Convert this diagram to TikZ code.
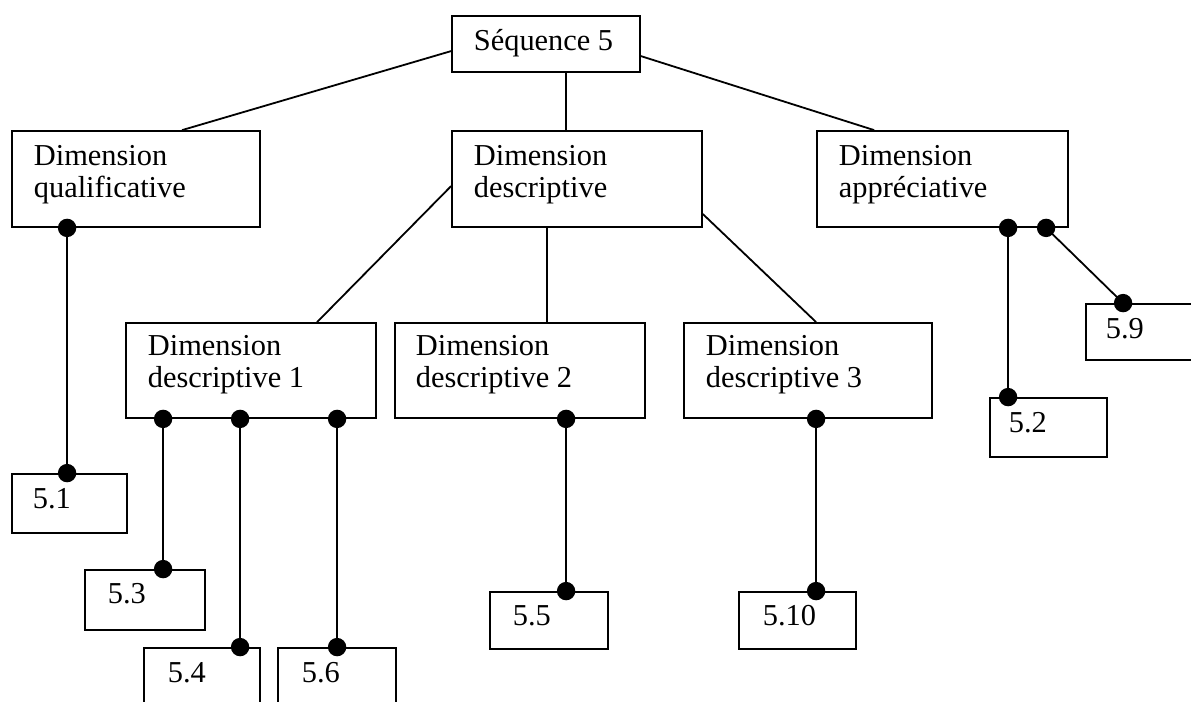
\documentclass[tikz,border=0pt]{standalone}
\usepackage{fontspec}
\setmainfont{Liberation Serif}
\usetikzlibrary{fit,calc}
\begin{document}
\begin{tikzpicture}[x=0.5pt,y=-0.5pt,line width=0.9pt,
  box/.style={draw,rectangle,inner sep=0pt,line width=0.9pt},
  lbl/.style={anchor=base west,inner sep=0pt,align=left,font=\fontsize{15.2pt}{16pt}\selectfont},
  dotc/.style={fill=black},
  conn/.style={draw=black,line width=0.9pt}]
\useasboundingbox (0,0) rectangle (1191,702);
\clip (0,0) rectangle (1191,702);
% boxes
\node[box,fit={(452,16) (640,72)}] (s) {};
\node[box,fit={(12,131) (260,227)}] (q) {};
\node[box,fit={(452,131) (702,227)}] (d) {};
\node[box,fit={(817,131) (1068,227)}] (a) {};
\node[box,fit={(126,323) (376,418)}] (d1) {};
\node[box,fit={(395,323) (645,418)}] (d2) {};
\node[box,fit={(684,323) (932,418)}] (d3) {};
\node[box,fit={(12,474) (127,533)}] (b1) {};
\node[box,fit={(85,570) (205,630)}] (b3) {};
\node[box,fit={(144,648) (260,720)}] (b4) {};
\node[box,fit={(278,648) (396,720)}] (b6) {};
\node[box,fit={(490,592) (608,649)}] (b5) {};
\node[box,fit={(739,592) (856,649)}] (b10) {};
\node[box,fit={(990,398) (1107,457)}] (b2) {};
\node[box,fit={(1086,304) (1210,360)}] (b9) {};
% texts (two-line nodes: base = last line)
\node[lbl] (ts) at (473,50) {Séquence 5};
\node[lbl] (tq) at (33,197) {Dimension\\qualificative};
\node[lbl] (td) at (473,197) {Dimension\\descriptive};
\node[lbl] (ta) at (838,197) {Dimension\\appréciative};
\node[lbl] (td1) at (147,387) {Dimension\\descriptive 1};
\node[lbl] (td2) at (415,387) {Dimension\\descriptive 2};
\node[lbl] (td3) at (705,387) {Dimension\\descriptive 3};
\node[lbl] (t1) at (32,508) {5.1};
\node[lbl] (t3) at (107,603) {5.3};
\node[lbl] (t4) at (167,682) {5.4};
\node[lbl] (t6) at (301,682) {5.6};
\node[lbl] (t5) at (512,625) {5.5};
\node[lbl] (t10) at (762,625) {5.10};
\node[lbl] (t2) at (1008,432) {5.2};
\node[lbl] (t9) at (1105,338) {5.9};
% plain connectors
\draw[conn] ($(s.north west)+(0,36)$) -- ($(q.north west)+(171,0)$);
\draw[conn] ($(s.north east)+(0,41)$) -- ($(a.north west)+(58,0)$);
\draw[conn] ($(s.south west)+(115,0)$) -- ($(d.north west)+(115,0)$);
\draw[conn] ($(d.north west)+(0,56)$) -- ($(d1.north west)+(192,0)$);
\draw[conn] ($(d.south west)+(96,0)$) -- ($(d2.north west)+(153,0)$);
\draw[conn] ($(d.north east)+(0,84)$) -- ($(d3.north west)+(133,0)$);
% dot connectors
\coordinate (qa) at ($(q.south west)+(56,0)$);
\coordinate (qb) at ($(b1.north west)+(56,0)$);
\coordinate (p1a) at ($(d1.south west)+(38,0)$);
\coordinate (p1b) at ($(b3.north west)+(79,0)$);
\coordinate (p2a) at ($(d1.south west)+(115,0)$);
\coordinate (p2b) at ($(b4.north west)+(97,0)$);
\coordinate (p3a) at ($(d1.south west)+(212,0)$);
\coordinate (p3b) at ($(b6.north west)+(60,0)$);
\coordinate (p4a) at ($(d2.south west)+(172,0)$);
\coordinate (p4b) at ($(b5.north west)+(77,0)$);
\coordinate (p5a) at ($(d3.south west)+(133,0)$);
\coordinate (p5b) at ($(b10.north west)+(78,0)$);
\coordinate (p6a) at ($(a.south west)+(192,0)$);
\coordinate (p6b) at ($(b2.north west)+(19,0)$);
\coordinate (p7a) at ($(a.south west)+(230,0)$);
\coordinate (p7b) at ($(b9.north west)+(38,0)$);
\foreach \u/\v in {qa/qb,p1a/p1b,p2a/p2b,p3a/p3b,p4a/p4b,p5a/p5b,p6a/p6b,p7a/p7b}{
  \draw[conn] (\u) -- (\v);
  \fill[dotc] (\u) circle (4.6pt);
  \fill[dotc] (\v) circle (4.6pt);
}
\end{tikzpicture}
\end{document}
